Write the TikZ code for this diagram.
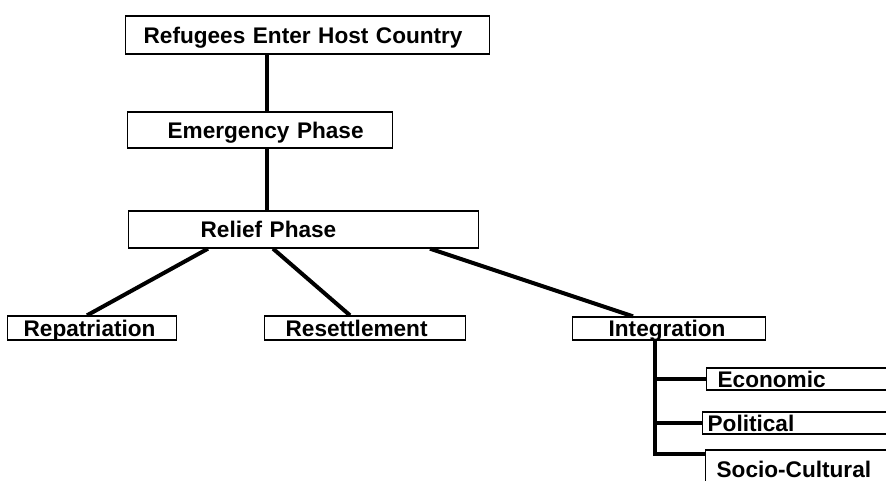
\documentclass[tikz,border=0pt]{standalone}
\usepackage{fontspec}
\setmainfont{Liberation Sans}
\usepackage{xcolor}
\usepackage{tikz}

\begin{document}
\begin{tikzpicture}[
        x=1pt, y=-1pt,
        box/.style={
            rectangle,
            draw=black,
            line width=1.3pt,
            anchor=west,
            align=left,
            inner xsep=0pt,
            inner ysep=0pt,
            text height=16pt,
            text depth=0pt,
            font=\fontsize{22.6}{24}\selectfont\bfseries
        },
        link/.style={
            draw=black,
            line width=4pt
        }
    ]
        \clip (0,0) rectangle (886,480);
        \fill[white] (0,0) rectangle (886,480);

        % phases
        \node[box, text width=364pt, minimum height=38pt] (host) at (125,35) {\hspace*{18pt}Refugees Enter Host Country};
        \node[box, text width=265pt, minimum height=36pt] (emerg) at (127,130) {\hspace*{40pt}Emergency Phase};
        \node[box, text width=350pt, minimum height=37pt] (relief) at (128,229.5) {\hspace*{72pt}Relief Phase};

        % durable solutions
        \node[box, text width=169pt, minimum height=24pt] (repat) at (7,328) {\hspace*{16pt}Repatriation};
        \node[box, text width=201pt, minimum height=24pt] (resett) at (264,328) {\hspace*{21pt}Resettlement};
        \node[box, text width=193pt, minimum height=23pt] (integ) at (572,328.5) {\hspace*{36pt}Integration};

        % integration branches
        \node[box, text width=200pt, minimum height=22pt] (econ) at (706,379) {\hspace*{11pt}Economic};
        \node[box, text width=200pt, minimum height=22pt] (polit) at (702,423) {\hspace*{5pt}Political};
        \node[box, text width=200pt, minimum height=38pt] (socio) at (705,469) {\hspace*{11pt}Socio-Cultural};

        % connectors
        \draw[link] ([xshift=142pt]host.south west) -- ([xshift=140pt]emerg.north west);
        \draw[link] ([xshift=140pt]emerg.south west) -- ([xshift=139pt]relief.north west);
        \draw[link] ([xshift=80pt]relief.south west) -- ([xshift=80pt]repat.north west);
        \draw[link] ([xshift=145pt]relief.south west) -- ([xshift=86pt]resett.north west);
        \draw[link] ([xshift=302pt]relief.south west) -- ([xshift=61pt]integ.north west);
        \draw[link] ([xshift=83pt]integ.south west) |- ([yshift=-5pt]socio.north west);
        \draw[link] ([xshift=83pt]integ.south west) |- (econ.west);
        \draw[link] ([xshift=83pt]integ.south west) |- (polit.west);
    \end{tikzpicture}
\end{document}
